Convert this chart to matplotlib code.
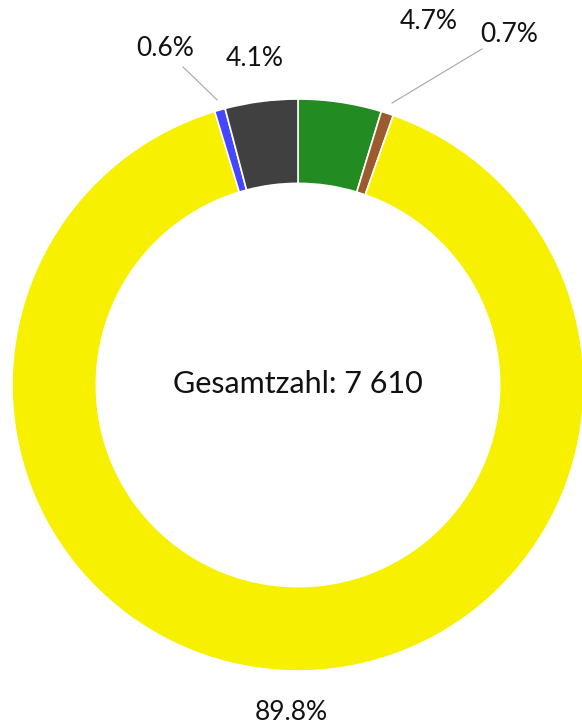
import numpy as np
import matplotlib
matplotlib.use("Agg")
import matplotlib.pyplot as plt

# shares in percent, clockwise from 12 o'clock
shares = [4.7, 0.7, 89.8, 0.6, 4.1]
labels = ["4.7%", "0.7%", "89.8%", "0.6%", "4.1%"]
colors = ["#228B22", "#9C5B2C", "#F7F000", "#4646FF", "#404040"]
total_text = "Gesamtzahl: 7 610"

# label positions (data units, radius = 1)
label_pos = [(0.458, 1.272), (0.738, 1.227), (-0.024, -1.145), (-0.465, 1.175), (-0.150, 1.143)]
# leader lines for the small slices
leaders = {1: ((0.643, 1.175), (0.329, 0.986)),
           3: ((-0.402, 1.112), (-0.283, 0.997))}

W, H = 582, 727
cx, cy, R = 298, 385, 286

fig = plt.figure(figsize=(W / 100, H / 100), dpi=100)
ax = fig.add_axes([0, 0, 1, 1])
ax.axis("off")

ax.pie(shares, colors=colors, startangle=90, counterclock=False, radius=1,
       wedgeprops=dict(width=0.295, edgecolor="white", linewidth=1.2))

ax.set_xlim(-cx / R, (W - cx) / R)
ax.set_ylim(-(H - cy) / R, cy / R)
ax.set_aspect("equal")

font = "Lato"
for i, lab in enumerate(labels):
    x, y = label_pos[i]
    ax.text(x, y, lab, ha="center", va="center", fontsize=19, family=font, color="#111111")

for i, (p0, p1) in leaders.items():
    ax.plot([p0[0], p1[0]], [p0[1], p1[1]], color="#A6A6A6", linewidth=0.8)

ax.text(0, 0.005, total_text, ha="center", va="center", fontsize=22, family=font, color="#111111")

fig.savefig("out.png", dpi=100)
